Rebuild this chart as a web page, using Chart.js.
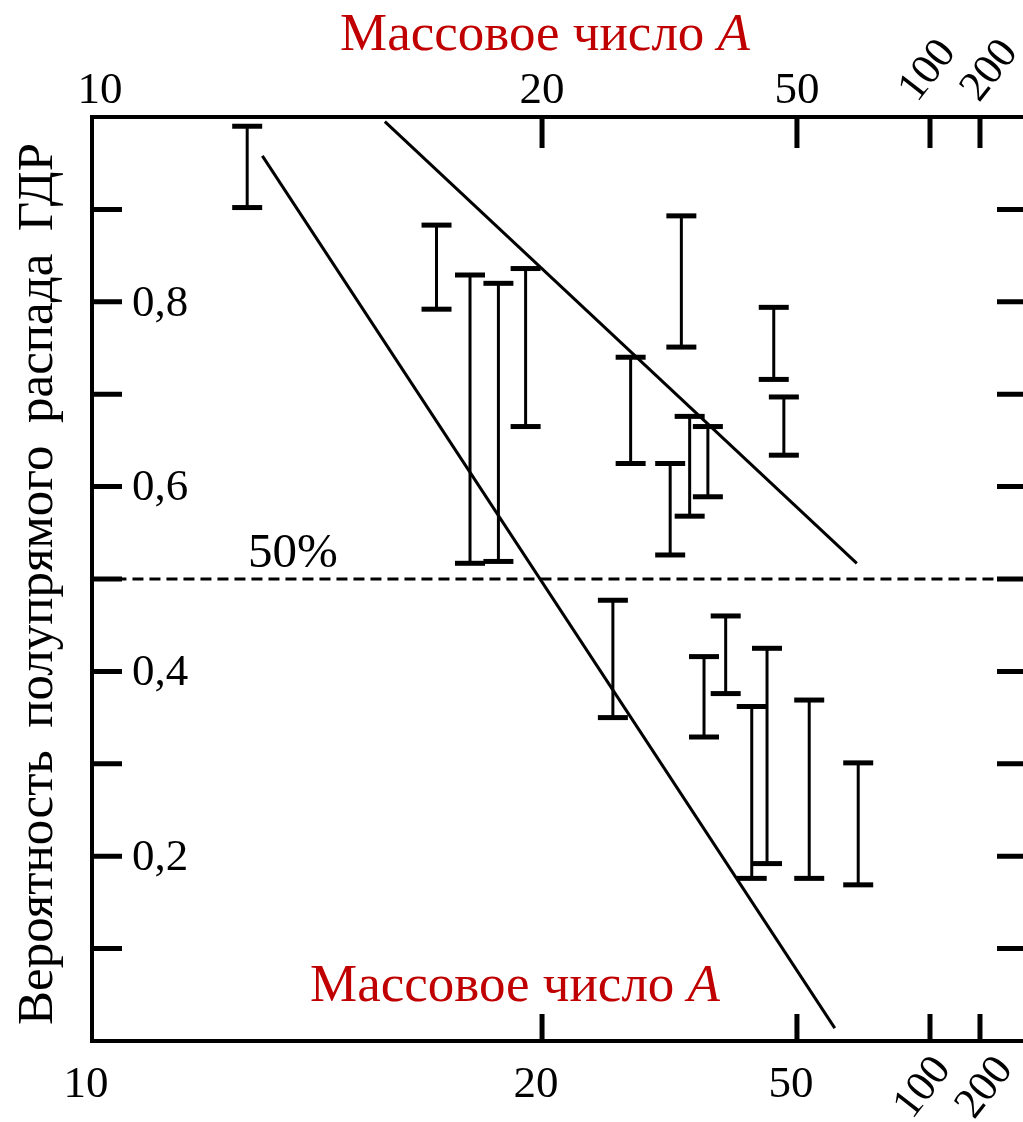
<!DOCTYPE html>
<html lang="ru">
<head>
<meta charset="utf-8">
<title>Вероятность полупрямого распада ГДР</title>
<script src="https://cdn.jsdelivr.net/npm/chart.js@4.4.1/dist/chart.umd.min.js"></script>
<style>
  html, body { margin: 0; padding: 0; background: #fff; }
  canvas { display: block; }
</style>
</head>
<body>
<canvas id="gdrChart" width="1023" height="1122"></canvas>
<script>
// measured points: mass number A with lower / upper bound of the probability
const barMass = [12.7, 17.0, 17.9, 18.7, 19.5, 25.8, 27.5, 31.7, 33.0, 34.0, 35.8, 36.3, 38.7, 42.5, 44.9, 46.0, 47.7, 53.3, 68.8];
const barLow  = [0.902, 0.792, 0.517, 0.519, 0.665, 0.350, 0.625, 0.526, 0.751, 0.568, 0.329, 0.589, 0.376, 0.176, 0.192, 0.716, 0.634, 0.176, 0.169];
const barHigh = [0.990, 0.883, 0.829, 0.820, 0.836, 0.477, 0.740, 0.625, 0.893, 0.676, 0.416, 0.665, 0.460, 0.362, 0.425, 0.794, 0.697, 0.369, 0.301];

// two guide lines
const upperLineMass = [15.7, 68.3];
const upperLineProb = [0.995, 0.517];
const lowerLineMass = [13.0, 60.9];
const lowerLineProb = [0.958, 0.014];

const halfLevel = 0.5;

// ticks
const massTicks = [10, 20, 50, 100, 200];
const probTicks = [0.1, 0.2, 0.3, 0.4, 0.5, 0.6, 0.7, 0.8, 0.9];
const probLabeled = [0.2, 0.4, 0.6, 0.8];

// graduation of the mass axis (it is neither linear nor logarithmic)
const scaleMass = [10, 20, 50, 100, 200, 360];
const scalePos  = [0, 0.4834, 0.7572, 0.9001, 0.9538, 1];

function massToDecimal(a) {
  const la = Math.log(a);
  let i = 1;
  while (i < scaleMass.length - 1 && a > scaleMass[i]) i++;
  const l0 = Math.log(scaleMass[i - 1]), l1 = Math.log(scaleMass[i]);
  return scalePos[i - 1] + (la - l0) / (l1 - l0) * (scalePos[i] - scalePos[i - 1]);
}

function decimalToMass(d) {
  let i = 1;
  while (i < scalePos.length - 1 && d > scalePos[i]) i++;
  const l0 = Math.log(scaleMass[i - 1]), l1 = Math.log(scaleMass[i]);
  const t = (d - scalePos[i - 1]) / (scalePos[i] - scalePos[i - 1]);
  return Math.exp(l0 + t * (l1 - l0));
}

class MassScale extends Chart.LinearScale {
  getPixelForValue(value) {
    return this.getPixelForDecimal(massToDecimal(value));
  }
  getValueForPixel(pixel) {
    return decimalToMass(this.getDecimalForPixel(pixel));
  }
}
MassScale.id = 'mass';
MassScale.defaults = {};
Chart.register(MassScale);

const SERIF = '"Liberation Serif", "Times New Roman", serif';
const TITLE_RED = '#c00000';

function drawMassTitle(ctx, cx, baseline) {
  const word = 'Массовое число ';
  ctx.font = '53px ' + SERIF;
  const w1 = ctx.measureText(word).width;
  ctx.font = 'italic 53px ' + SERIF;
  const w2 = ctx.measureText('A').width;
  const x0 = cx - (w1 + w2) / 2;
  ctx.fillStyle = TITLE_RED;
  ctx.textAlign = 'left';
  ctx.textBaseline = 'alphabetic';
  ctx.font = '53px ' + SERIF;
  ctx.fillText(word, x0, baseline);
  ctx.font = 'italic 53px ' + SERIF;
  ctx.fillText('A', x0 + w1, baseline);
}

// spreads the words of a title over a given length
function drawSpreadText(ctx, words, length) {
  const widths = words.map(w => ctx.measureText(w).width);
  const total = widths.reduce((s, w) => s + w, 0);
  const gap = (length - total) / (words.length - 1);
  let x = -length / 2;
  words.forEach((w, i) => {
    ctx.fillText(w, x, 0);
    x += widths[i] + gap;
  });
}

const axesPlugin = {
  id: 'gdrAxes',
  afterDraw(chart) {
    const { ctx, chartArea: area } = chart;
    const xs = chart.scales.x, ys = chart.scales.y;
    ctx.save();
    ctx.strokeStyle = '#000';
    ctx.fillStyle = '#000';
    ctx.lineCap = 'butt';

    // frame; the right side runs off the canvas
    ctx.lineWidth = 4;
    ctx.beginPath();
    ctx.moveTo(area.right + 4, area.top);
    ctx.lineTo(area.left, area.top);
    ctx.lineTo(area.left, area.bottom);
    ctx.lineTo(area.right + 4, area.bottom);
    ctx.stroke();

    // inward ticks
    ctx.lineWidth = 5;
    massTicks.slice(1).forEach(a => {
      const px = xs.getPixelForValue(a);
      ctx.beginPath();
      ctx.moveTo(px, area.top);
      ctx.lineTo(px, area.top + 31);
      ctx.moveTo(px, area.bottom);
      ctx.lineTo(px, area.bottom - 27);
      ctx.stroke();
    });
    probTicks.forEach(p => {
      const py = ys.getPixelForValue(p);
      ctx.beginPath();
      ctx.moveTo(area.left, py);
      ctx.lineTo(area.left + 30, py);
      ctx.moveTo(area.right, py);
      ctx.lineTo(area.right - 26, py);
      ctx.stroke();
    });

    // mass tick labels, top and bottom
    ctx.font = '45px ' + SERIF;
    ctx.textAlign = 'center';
    ctx.textBaseline = 'alphabetic';
    massTicks.forEach(a => {
      const px = xs.getPixelForValue(a);
      if (a < 100) {
        ctx.fillText(String(a), px + (a === 10 ? 8 : 0), 103);
        ctx.fillText(String(a), px - 6, 1097);
      }
    });
    ctx.font = '43px ' + SERIF;
    ctx.textBaseline = 'middle';
    massTicks.filter(a => a >= 100).forEach(a => {
      const px = xs.getPixelForValue(a);
      const shift = a === 200 ? 10 : -2;
      [[px + shift, 71], [px + shift - 5, 1088]].forEach(([cx, cy]) => {
        ctx.save();
        ctx.translate(cx, cy);
        ctx.rotate(-52 * Math.PI / 180);
        ctx.fillText(String(a), 0, 0);
        ctx.restore();
      });
    });

    // probability labels
    ctx.font = '45px ' + SERIF;
    ctx.textAlign = 'left';
    ctx.textBaseline = 'middle';
    probLabeled.forEach(p => {
      ctx.fillText(p.toFixed(1).replace('.', ','), 132, ys.getPixelForValue(p) + 2);
    });

    // 50% mark above the dashed line
    ctx.font = '49px ' + SERIF;
    ctx.textBaseline = 'alphabetic';
    ctx.fillText('50%', 248, ys.getPixelForValue(halfLevel) - 12);

    // axis titles
    drawMassTitle(ctx, 545, 50);
    drawMassTitle(ctx, 515, 1001);

    ctx.save();
    ctx.fillStyle = '#000';
    ctx.font = '51px ' + SERIF;
    ctx.textAlign = 'left';
    ctx.textBaseline = 'alphabetic';
    ctx.translate(52, 584);
    ctx.rotate(-Math.PI / 2);
    drawSpreadText(ctx, ['Вероятность', 'полупрямого', 'распада', 'ГДР'], 882);
    ctx.restore();

    ctx.restore();
  }
};

const lineStyle = {
  borderColor: '#000',
  borderWidth: 3,
  pointRadius: 0,
  fill: false
};

const datasets = [
  Object.assign({
    data: upperLineMass.map((a, i) => ({ x: a, y: upperLineProb[i] }))
  }, lineStyle),
  Object.assign({
    data: lowerLineMass.map((a, i) => ({ x: a, y: lowerLineProb[i] }))
  }, lineStyle),
  Object.assign({
    data: [{ x: 10.1, y: halfLevel }, { x: 360, y: halfLevel }],
    borderDash: [11, 6]
  }, lineStyle)
];

barMass.forEach((a, i) => {
  datasets.push({
    data: [{ x: a, y: barLow[i] }, { x: a, y: barHigh[i] }],
    borderColor: '#000',
    borderWidth: 3,
    pointStyle: 'line',
    pointRadius: 15,
    pointBorderWidth: 5,
    pointBorderColor: '#000',
    fill: false
  });
});

new Chart(document.getElementById('gdrChart'), {
  type: 'line',
  data: { datasets },
  options: {
    responsive: false,
    animation: false,
    events: [],
    layout: {
      autoPadding: false,
      padding: { left: 92, top: 117, right: 0, bottom: 81 }
    },
    plugins: {
      legend: { display: false },
      tooltip: { enabled: false }
    },
    scales: {
      x: { type: 'mass', min: 10, max: 360, display: false },
      y: { type: 'linear', min: 0, max: 1, display: false }
    }
  },
  plugins: [axesPlugin]
});
</script>
</body>
</html>
